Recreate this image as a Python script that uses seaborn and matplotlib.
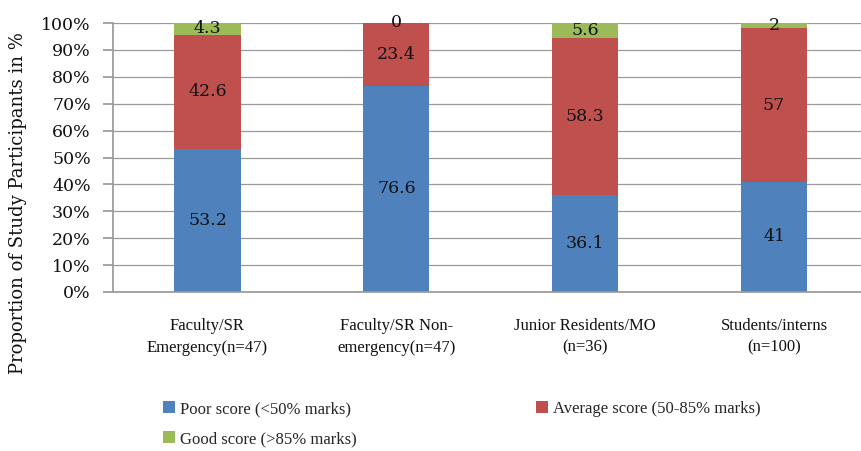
import matplotlib
matplotlib.use("Agg")
import matplotlib.pyplot as plt
import seaborn as sns
import numpy as np
import pandas as pd
from matplotlib.patches import Patch

categories = ["Faculty/SR\nEmergency(n=47)", "Faculty/SR Non-\nemergency(n=47)",
              "Junior Residents/MO\n(n=36)", "Students/interns\n(n=100)"]
poor = [53.2, 76.6, 36.1, 41]
average = [42.6, 23.4, 58.3, 57]
good = [4.3, 0, 5.6, 2]
series_names = ["Poor score (<50% marks)", "Average score (50-85% marks)", "Good score (>85% marks)"]
colors = ["#4F81BD", "#C0504D", "#9BBB59"]
yticks = [0, 10, 20, 30, 40, 50, 60, 70, 80, 90, 100]

sns.set_theme(style="white")
plt.rcParams['font.family'] = ['DejaVu Serif', 'Liberation Serif']

fig = plt.figure(figsize=(8.61, 4.51), dpi=100)
ax = fig.add_axes([113/861, 1-292/451, (861-113)/861, (292-23)/451])

vals = np.array([poor, average, good], dtype=float)
totals = vals.sum(axis=0)
pct = vals / totals * 100
cum = np.cumsum(pct, axis=0)

for i in reversed(range(3)):
    d = pd.DataFrame({"cat": categories, "val": cum[i]})
    sns.barplot(data=d, x="cat", y="val", color=colors[i], width=0.35,
                saturation=1, ax=ax, linewidth=0, order=categories)

for i in range(3):
    base = cum[i] - pct[i]
    for j in range(len(categories)):
        v = vals[i][j]
        y = base[j] + pct[i][j] / 2
        if v == 0:
            y = 100.3
        ax.text(j, y, f"{v:g}", ha="center", va="center", fontsize=12.5, color="#111111")

ax.set_xlim(-0.5, 3.46)
ax.set_ylim(0, 100)
ax.set_yticks(yticks)
ax.set_yticklabels([f"{t}%" for t in yticks], fontsize=12.5)
ax.yaxis.grid(True, color="#9a9a9a", linewidth=0.9)
ax.set_axisbelow(True)
ax.tick_params(axis="y", length=7, color="#9a9a9a", left=True, pad=9, labelcolor="#111111")
ax.tick_params(axis="x", length=0, pad=19)
for lab in ax.get_xticklabels():
    lab.set_fontfamily(['Liberation Serif', 'DejaVu Serif'])
    lab.set_fontsize(12)
    lab.set_linespacing(1.45)
    lab.set_color("#111111")
for s in ["top", "right"]:
    ax.spines[s].set_visible(False)
ax.spines["left"].set_color("#9a9a9a")
ax.spines["bottom"].set_color("#9a9a9a")
ax.set_xlabel("")
ax.set_ylabel("")
fig.text(18/861, 1-203/451, "Proportion of Study Participants in %", rotation=90,
         ha="center", va="center", fontsize=13, color="#111111")

handles = [Patch(facecolor=c, edgecolor="none") for c in colors]
order = [0, 2, 1]
fig.legend([handles[k] for k in order], [series_names[k] for k in order],
           loc="upper left", bbox_to_anchor=(148/861, 1-386/451),
           ncol=2, frameon=False, prop={"family": ["Liberation Serif"], "size": 12},
           handlelength=0.7, handleheight=0.7,
           handletextpad=0.3, columnspacing=10.8, labelspacing=0.85)

fig.savefig("out.png", dpi=100)
